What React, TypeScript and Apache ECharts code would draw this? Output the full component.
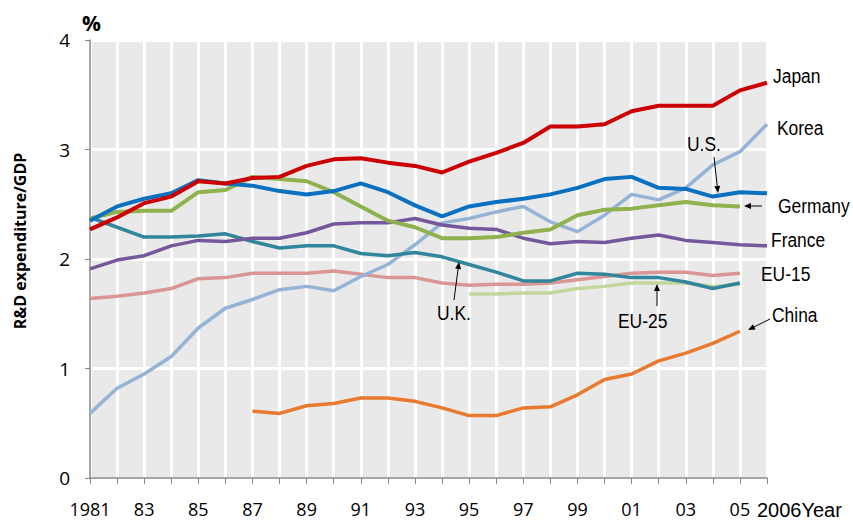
import React, { useEffect, useRef } from "react";
import * as echarts from "echarts";

const years = [1981, 1982, 1983, 1984, 1985, 1986, 1987, 1988, 1989, 1990, 1991, 1992, 1993, 1994, 1995, 1996, 1997, 1998, 1999, 2000, 2001, 2002, 2003, 2004, 2005, 2006];

const japan = [2.27, 2.38, 2.51, 2.57, 2.71, 2.69, 2.74, 2.75, 2.85, 2.91, 2.92, 2.88, 2.85, 2.79, 2.89, 2.97, 3.06, 3.21, 3.21, 3.23, 3.35, 3.4, 3.4, 3.4, 3.54, 3.61];
const korea = [0.59, 0.82, 0.95, 1.11, 1.37, 1.55, 1.63, 1.72, 1.75, 1.71, 1.84, 1.95, 2.13, 2.33, 2.37, 2.43, 2.48, 2.34, 2.25, 2.4, 2.59, 2.54, 2.65, 2.86, 2.98, 3.23];
const us = [2.35, 2.48, 2.55, 2.6, 2.72, 2.69, 2.67, 2.62, 2.59, 2.62, 2.69, 2.61, 2.49, 2.39, 2.48, 2.52, 2.55, 2.59, 2.65, 2.73, 2.75, 2.65, 2.64, 2.57, 2.61, 2.6];
const germany = [2.37, 2.43, 2.44, 2.44, 2.61, 2.63, 2.75, 2.73, 2.71, 2.61, 2.48, 2.35, 2.29, 2.19, 2.19, 2.2, 2.24, 2.27, 2.4, 2.45, 2.46, 2.49, 2.52, 2.49, 2.48, null];
const france = [1.91, 1.99, 2.03, 2.12, 2.17, 2.16, 2.19, 2.19, 2.24, 2.32, 2.33, 2.33, 2.37, 2.31, 2.28, 2.27, 2.19, 2.14, 2.16, 2.15, 2.19, 2.22, 2.17, 2.15, 2.13, 2.12];
const uk = [2.38, 2.29, 2.2, 2.2, 2.21, 2.23, 2.16, 2.1, 2.12, 2.12, 2.05, 2.03, 2.06, 2.02, 1.95, 1.88, 1.8, 1.8, 1.87, 1.86, 1.83, 1.83, 1.79, 1.73, 1.78, null];
const eu15 = [1.64, 1.66, 1.69, 1.73, 1.82, 1.83, 1.87, 1.87, 1.87, 1.89, 1.86, 1.83, 1.83, 1.78, 1.76, 1.77, 1.77, 1.78, 1.81, 1.84, 1.87, 1.88, 1.88, 1.85, 1.87, null];
const eu25 = [null, null, null, null, null, null, null, null, null, null, null, null, null, null, 1.68, 1.68, 1.69, 1.69, 1.73, 1.75, 1.78, 1.78, 1.78, 1.75, 1.77, null];
const china = [null, null, null, null, null, null, 0.61, 0.59, 0.66, 0.68, 0.73, 0.73, 0.7, 0.64, 0.57, 0.57, 0.64, 0.65, 0.76, 0.9, 0.95, 1.07, 1.14, 1.23, 1.34, null];

const yTicks = [0, 1, 2, 3, 4];
const lastYearLabel = `${years[years.length - 1]}Year`;

const ARIAL = "'Liberation Sans', Arial, sans-serif";
const AXISFONT = "'Open Sans', 'Noto Sans', sans-serif";

function arrow(x1: number, y1: number, x2: number, y2: number) {
  const ang = Math.atan2(y2 - y1, x2 - x1);
  const L = 7, W = 3;
  const bx = x2 - L * Math.cos(ang), by = y2 - L * Math.sin(ang);
  const px = -Math.sin(ang) * W, py = Math.cos(ang) * W;
  return [
    { type: "line", shape: { x1, y1, x2: bx, y2: by }, style: { stroke: "#000", lineWidth: 1 }, z: 100 },
    { type: "polygon", shape: { points: [[x2, y2], [bx + px, by + py], [bx - px, by - py]] }, style: { fill: "#000" }, z: 100 },
  ];
}

function label(text: string, x: number, y: number) {
  return {
    type: "text",
    x,
    y,
    scaleX: 0.83,
    z: 100,
    style: { text, fill: "#000", font: `21px ${ARIAL}`, verticalAlign: "middle", align: "left" },
  };
}

export default function App() {
  const ref = useRef<HTMLDivElement>(null);
  useEffect(() => {
    if (!ref.current) return;
    const chart = echarts.init(ref.current, null, { renderer: "svg" });
    const mk = (name: string, data: (number | null)[], color: string, width: number) => ({
      name,
      type: "line",
      data,
      symbol: "none",
      showSymbol: false,
      connectNulls: false,
      lineStyle: { color, width, cap: "butt", join: "round" },
      itemStyle: { color },
    });
    chart.setOption({
      animation: false,
      grid: { left: 90, right: 86, top: 40, bottom: 42, show: true, backgroundColor: "#e9e9e9", borderWidth: 0 },
      xAxis: {
        type: "category",
        boundaryGap: false,
        data: years.map(String),
        axisLine: { show: true, lineStyle: { color: "#888", width: 1.5 } },
        axisTick: { show: true, interval: 0, length: 6, lineStyle: { color: "#888" } },
        splitLine: { show: true, interval: 0, lineStyle: { color: "#fff", width: 3 } },
        axisLabel: {
          interval: (i: number) => i % 2 === 0,
          margin: 22,
          color: "#000",
          fontSize: 18,
          lineHeight: 18,
          fontFamily: AXISFONT,
          formatter: (v: string, i: number) => (i === 0 ? v : v.slice(2)),
        },
      },
      yAxis: {
        type: "value",
        min: yTicks[0],
        max: yTicks[yTicks.length - 1],
        interval: 1,
        axisLine: { show: true, lineStyle: { color: "#888", width: 1.5 } },
        axisTick: { show: true, length: 5, lineStyle: { color: "#888" } },
        splitLine: { show: true, lineStyle: { color: "#fff", width: 3 } },
        axisLabel: { margin: 20, color: "#000", fontSize: 19, fontFamily: AXISFONT },
      },
      series: [
        mk("EU-25", eu25, "#c3d69b", 3.5),
        mk("EU-15", eu15, "#d99694", 3.5),
        mk("China", china, "#e8792e", 3.5),
        mk("Korea", korea, "#95b3d7", 3.5),
        mk("U.K.", uk, "#31859c", 3.5),
        mk("France", france, "#74589b", 3.5),
        mk("Germany", germany, "#8fb14e", 4),
        mk("U.S.", us, "#0a70c0", 4),
        mk("Japan", japan, "#cc0000", 4),
      ],
      graphic: [
        { type: "text", x: 82, y: 23, style: { text: "%", font: `bold 21px ${AXISFONT}`, fill: "#000", verticalAlign: "middle" } },
        {
          type: "text",
          x: 20,
          y: 241,
          rotation: Math.PI / 2,
          style: { text: "R&D expenditure/GDP", font: `bold 16px ${AXISFONT}`, fill: "#000", align: "center", verticalAlign: "middle" },
        },
        { type: "text", x: 757, y: 510, style: { text: lastYearLabel, font: `20px ${ARIAL}`, fill: "#000", verticalAlign: "middle", align: "left" } },
        label("Japan", 773, 76),
        label("Korea", 777, 128),
        label("U.S.", 687, 144),
        label("Germany", 778, 206),
        label("France", 771, 240),
        label("EU-15", 761, 274),
        label("China", 772, 315),
        label("EU-25", 618, 321),
        label("U.K.", 437, 313),
        ...arrow(714, 157, 718, 193),
        ...arrow(762, 206, 744, 206),
        ...arrow(770, 319, 748, 330),
        ...arrow(657, 306, 657, 284),
        ...arrow(454, 300, 459, 262),
      ],
    });
    return () => chart.dispose();
  }, []);
  return <div ref={ref} style={{ width: 853, height: 520, position: "absolute", left: 0, top: 0 }} />;
}
